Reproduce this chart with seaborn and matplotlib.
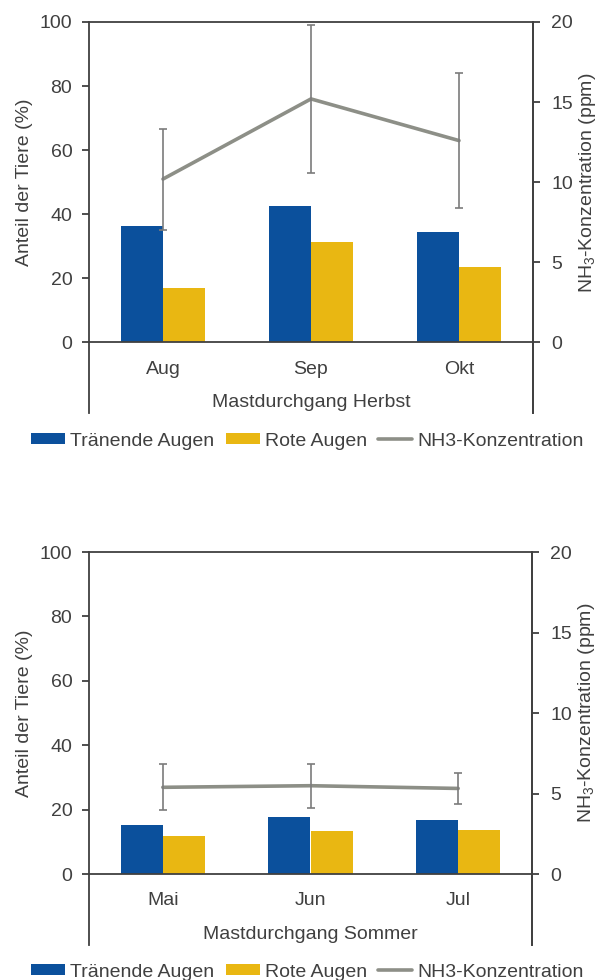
import numpy as np
import pandas as pd
import matplotlib
matplotlib.use("Agg")
import matplotlib.pyplot as plt
import seaborn as sns
from matplotlib.lines import Line2D

sns.set_theme(style="white")
plt.rcParams['font.family'] = ['Liberation Sans', 'DejaVu Sans']
plt.rcParams['mathtext.default'] = 'regular'

# ---- data ----
months_herbst = ["Aug", "Sep", "Okt"]
traenend_herbst = [36.5, 42.5, 34.4]
rot_herbst = [16.9, 31.2, 23.5]
nh3_herbst = [10.2, 15.2, 12.6]
nh3_err_herbst = [3.15, 4.6, 4.2]

months_sommer = ["Mai", "Jun", "Jul"]
traenend_sommer = [15.4, 17.8, 16.8]
rot_sommer = [11.8, 13.3, 13.6]
nh3_sommer = [5.39, 5.49, 5.32]
nh3_err_sommer = [1.43, 1.37, 0.98]

series_names = ["Tränende Augen", "Rote Augen"]
line_name = "NH3-Konzentration"
xlabels = ["Mastdurchgang Herbst", "Mastdurchgang Sommer"]
left_ticks = [0, 20, 40, 60, 80, 100]
right_ticks = [0, 5, 10, 15, 20]

BLUE = "#0b509c"
YELLOW = "#e9b712"
LINEGRAY = "#8d8f87"
ERRGRAY = "#7b7b7b"
AXC = "#404040"
TXT = "#404040"
FS = 14

fig = plt.figure(figsize=(5.99, 9.80), dpi=100)

positions = [
    [89/599, 1-413/980, 444/599, 391/980],
    [89/599, 1-945/980, 443/599, 393/980],
]
legend_y = [1-441/980, 1-972/980]

panels = [
    (months_herbst, traenend_herbst, rot_herbst, nh3_herbst, nh3_err_herbst),
    (months_sommer, traenend_sommer, rot_sommer, nh3_sommer, nh3_err_sommer),
]

for i, (months, t, r, nh3, err) in enumerate(panels):
    ax = fig.add_axes(positions[i])
    df = pd.DataFrame({
        "Monat": months * 2,
        "Wert": list(t) + list(r),
        "Serie": [series_names[0]] * 3 + [series_names[1]] * 3,
    })
    sns.barplot(data=df, x="Monat", y="Wert", hue="Serie", order=months,
                hue_order=series_names, palette=[BLUE, YELLOW], width=0.57,
                saturation=1, linewidth=0, ax=ax, legend=True)
    handles, labels = ax.get_legend_handles_labels()
    if ax.get_legend() is not None:
        ax.get_legend().remove()
    ax.set_xlim(-0.5, 2.5)
    ax.set_ylim(-22, 100)
    ax.set_yticks(left_ticks)
    ax.spines['bottom'].set_position(('data', 0))
    for s in ['left', 'right', 'top', 'bottom']:
        ax.spines[s].set_color(AXC)
        ax.spines[s].set_linewidth(1.3)
    ax.tick_params(axis='y', which='both', left=True, length=5, width=1.3,
                   color=AXC, labelsize=FS, labelcolor=TXT, pad=7, direction='out')
    ax.tick_params(axis='x', length=0, labelsize=FS, labelcolor=TXT, pad=13)
    ax.set_xlabel(xlabels[i], fontsize=FS, color=TXT, labelpad=12)
    ax.set_ylabel("Anteil der Tiere (%)", fontsize=FS, color=TXT)
    ax.yaxis.set_label_coords(-0.126, 0.59)

    ax2 = ax.twinx()
    ax2.set_ylim(-4.4, 20)
    ax2.set_yticks(right_ticks)
    sns.lineplot(x=[0, 1, 2], y=nh3, ax=ax2, color=LINEGRAY, linewidth=2.6,
                 legend=False, zorder=3)
    ax2.errorbar([0, 1, 2], nh3, yerr=err, fmt='none', ecolor=ERRGRAY,
                 elinewidth=1.2, capsize=2.6, capthick=1.2, zorder=4)
    for s in ['left', 'top', 'bottom']:
        ax2.spines[s].set_visible(False)
    ax2.spines['right'].set_color(AXC)
    ax2.spines['right'].set_linewidth(1.3)
    ax2.tick_params(axis='y', which='both', right=True, length=5, width=1.3,
                    color=AXC, labelsize=FS, labelcolor=TXT, pad=8, direction='out')
    ax2.set_ylabel("NH$_3$-Konzentration (ppm)", fontsize=FS, color=TXT)
    ax2.yaxis.set_label_coords(1.099, 0.59)
    ax2.grid(False)
    ax.grid(False)

    line_handle = Line2D([0], [0], color=LINEGRAY, linewidth=2.6)
    fig.legend(handles[:2] + [line_handle], series_names + [line_name],
               loc='center left', bbox_to_anchor=(31/599, legend_y[i]),
               bbox_transform=fig.transFigure, ncol=3, frameon=False,
               fontsize=FS, handlelength=1.75, handleheight=0.5,
               handletextpad=0.25, columnspacing=0.6, borderpad=0,
               borderaxespad=0, labelcolor=TXT)

fig.savefig("out.png", dpi=100)
